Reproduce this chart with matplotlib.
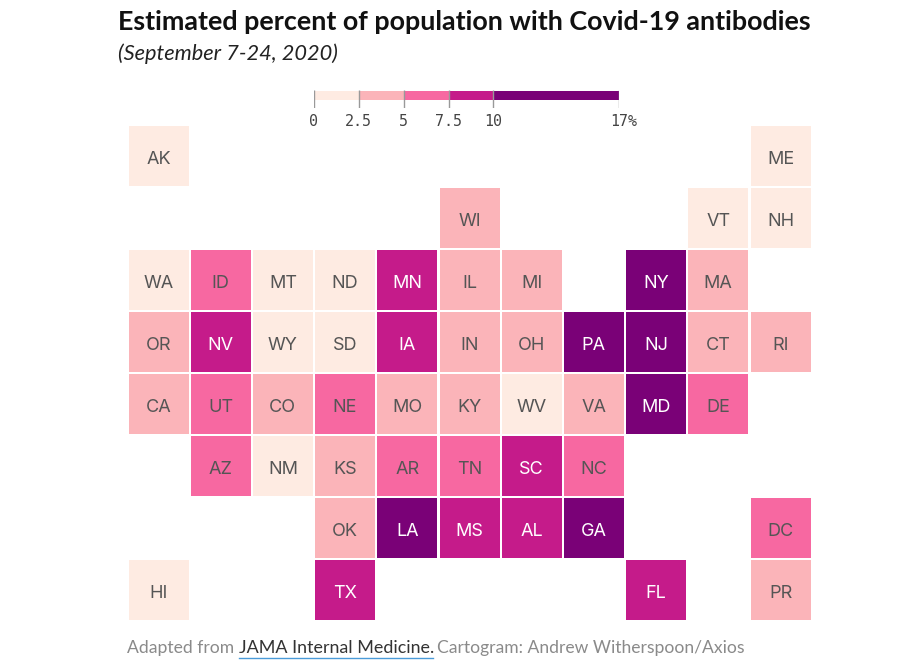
import matplotlib
matplotlib.use("Agg")
import matplotlib.pyplot as plt
from matplotlib.patches import Rectangle
from matplotlib.transforms import ScaledTranslation

W, H = 916, 663
states = ["AK","ME","WI","VT","NH","WA","ID","MT","ND","MN","IL","MI","NY","MA",
          "OR","NV","WY","SD","IA","IN","OH","PA","NJ","CT","RI",
          "CA","UT","CO","NE","MO","KY","WV","VA","MD","DE",
          "AZ","NM","KS","AR","TN","SC","NC","OK","LA","MS","AL","GA","DC","HI","TX","FL","PR"]
cols = [0,10,5,9,10,0,1,2,3,4,5,6,8,9,
        0,1,2,3,4,5,6,7,8,9,10,
        0,1,2,3,4,5,6,7,8,9,
        1,2,3,4,5,6,7,3,4,5,6,7,10,0,3,8,10]
rows = [0,0,1,1,1,2,2,2,2,2,2,2,2,2,
        3,3,3,3,3,3,3,3,3,3,3,
        4,4,4,4,4,4,4,4,4,4,
        5,5,5,5,5,5,5,6,6,6,6,6,6,7,7,7,7]
bins = [0,0,1,0,0,0,2,0,0,3,1,1,4,1,
        1,3,0,0,3,1,1,4,4,1,1,
        1,2,1,2,1,1,0,1,4,2,
        2,0,1,2,2,3,2,1,4,3,3,4,2,0,3,3,1]
palette = ["#FEEBE2","#FBB4B9","#F768A1","#C51B8A","#7A0177"]
breaks = [0,2.5,5,7.5,10,17]
tick_labels = ["0","2.5","5","7.5","10","17%"]

fig = plt.figure(figsize=(W/100,H/100),dpi=100,facecolor="white")

def px_axes(x0,y0,x1,y1):
    return fig.add_axes([x0/W,1-y1/H,(x1-x0)/W,(y1-y0)/H])

sx, sy = 62.2, 62.0
ax = px_axes(158.5-sx/2,155.5-sy/2,780.5+sx/2,589.5+sy/2)
ax.set_xlim(-.5,10.5); ax.set_ylim(7.5,-.5); ax.axis("off")
cw, ch = 60/sx, 60/sy
for s,c,r,b in zip(states,cols,rows,bins):
    ax.add_patch(Rectangle((c-cw/2,r-ch/2),cw,ch,fc=palette[b],ec="none"))
    ax.text(c,r+.07,s,ha="center",va="center",fontsize=13,family="Inter",
            color="white" if b>=3 else "#555555")

lg = px_axes(314,91,619,100)
lg.set_xlim(0,17); lg.set_ylim(0,1)
lg.axis("off")
for i in range(5):
    lg.barh(.5,breaks[i+1]-breaks[i],left=breaks[i],height=1,color=palette[i])
lt = px_axes(314,90,619,108)
lt.set_xlim(0,17); lt.set_ylim(1,0); lt.patch.set_alpha(0)
for sp in lt.spines.values(): sp.set_visible(False)
lt.yaxis.set_visible(False)
lt.xaxis.tick_bottom()
lt.set_xticks(breaks); lt.set_xticklabels(tick_labels)
lt.tick_params(axis="x",length=0,pad=4,labelsize=10.8,labelcolor="#444444")
labels = lt.get_xticklabels()
for t in labels: t.set_family("DejaVu Sans Mono")
labels[-1].set_transform(labels[-1].get_transform()+ScaledTranslation(5/100,0,fig.dpi_scale_trans))
lt.vlines(breaks,0,1,color="#999999",lw=1)

def T(x,y,s,**k):
    return fig.text(x/W,1-y/H,s,va="baseline",**k)
T(118,30,"Estimated percent of population with Covid-19 antibodies",fontsize=19.35,fontweight="bold",family="Lato",color="#111111")
T(118,60,"(September 7-24, 2020)",fontsize=15.7,style="italic",family="Lato",color="#222222")
T(127,653,"Adapted from",fontsize=12.6,family="Lato",color="#8a8a8a")
T(239,653,"JAMA Internal Medicine.",fontsize=12.85,family="Lato",color="#333333")
T(437,653,"Cartogram: Andrew Witherspoon/Axios",fontsize=12.6,family="Lato",color="#8a8a8a")
fig.add_artist(plt.Line2D([239/W,433/W],[1-657.5/H]*2,color="#4a9bd9",lw=1))
fig.savefig("out.png",dpi=100)
